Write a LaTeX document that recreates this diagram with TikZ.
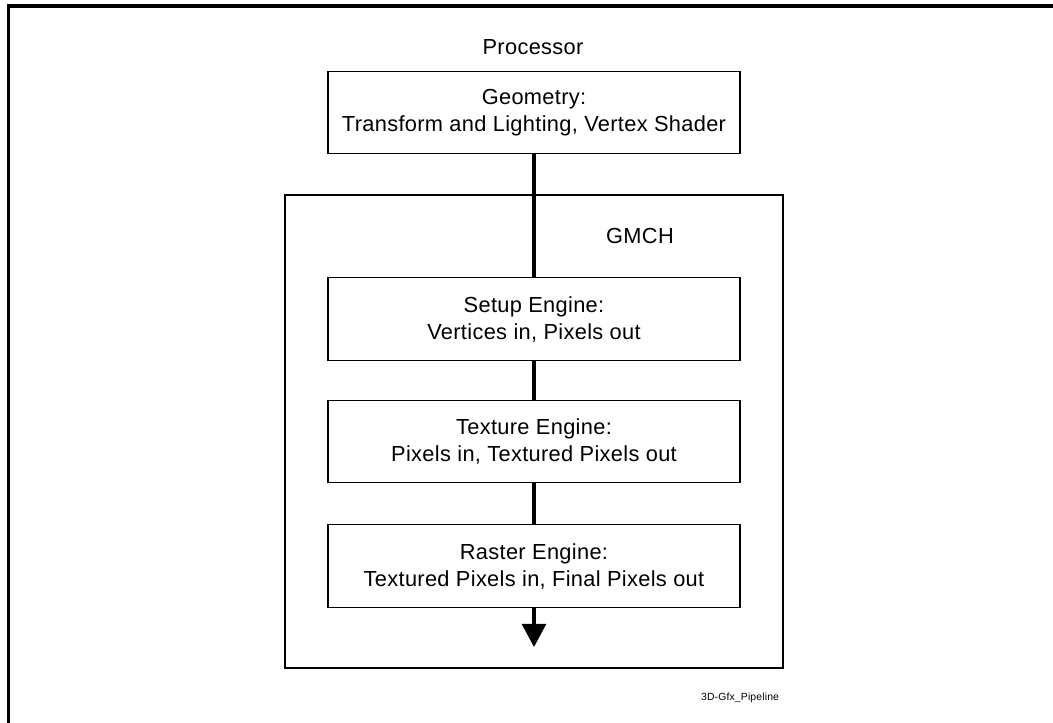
\documentclass[tikz,border=0pt]{standalone}
\usepackage{fontspec}
\setmainfont{Liberation Sans}[LetterSpace=1.5]
\usetikzlibrary{arrows.meta}

\begin{document}
\begin{tikzpicture}[x=0.025cm,y=-0.025cm,line cap=butt,line join=miter,
stage/.style={draw,line width=1pt,align=center,inner sep=0pt,
minimum width=10.3cm,minimum height=2.06cm,
font=\fontsize{15.5}{19.2}\selectfont},
label/.style={font=\fontsize{15.5}{19.2}\selectfont},
flow/.style={line width=2.2pt}]
\useasboundingbox (0,0) rectangle (1053,723);
% cái khung ngoài
\draw[line width=2.2pt] (8.5,723) -- (8.5,6) -- (1053,6);
% khối GMCH
\draw[line width=1.3pt] (285,195) rectangle (783,668);
\node[label] (proc) at (533,47) {Processor};
\node[label] (gmch) at (640,236) {GMCH};
% các khối
\node[stage] (geom) at (534,112.5) {Geometry:\\Transform and Lighting, Vertex Shader};
\node[stage] (setup) at (534,319) {Setup Engine:\\Vertices in, Pixels out};
\node[stage] (tex) at (534,441.5) {Texture Engine:\\Pixels in, Textured Pixels out};
\node[stage] (rast) at (534,566) {Raster Engine:\\Textured Pixels in, Final Pixels out};
\coordinate (out) at (534,647);
% nối các khối
\draw[flow] (geom) -- (setup);
\draw[flow] (setup) -- (tex);
\draw[flow] (tex) -- (rast);
\draw[flow,-{Triangle[width=0.6cm,length=0.58cm]}] (rast) -- (out);
\node[anchor=east,font=\fontsize{7.4}{9}\selectfont] (tag) at (784,698) {3D-Gfx\_Pipeline};
\end{tikzpicture}
\end{document}
